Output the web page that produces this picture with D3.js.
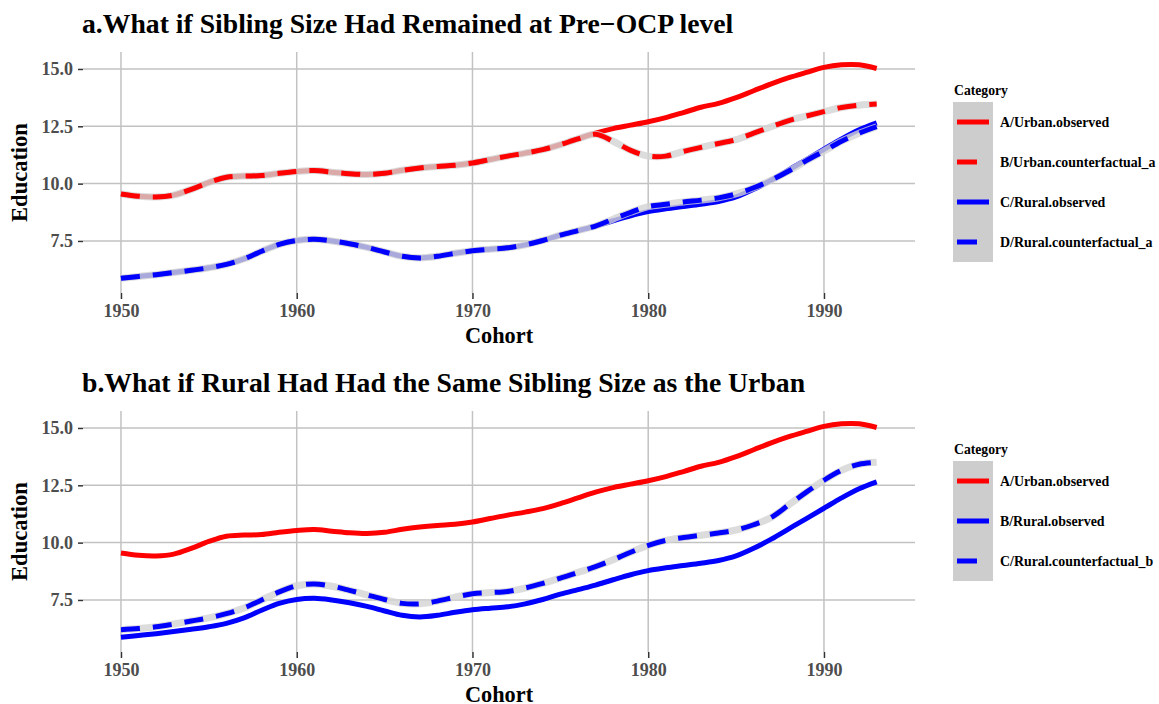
<!DOCTYPE html>
<html lang="en">
  <head>
    <meta charset="UTF-8" />
    <title>Sibling Size Counterfactuals</title>
    <script src="https://cdn.jsdelivr.net/npm/d3@7"></script>
    <style>
      body { margin: 0; background: #ffffff; }
      svg text { font-family: "Liberation Serif", "DejaVu Serif", serif; font-weight: bold; }
    </style>
  </head>
  <body>
    <svg id="chart" width="1159" height="704"></svg>
    <script>
      // cohorts (birth years)
      const years = d3.range(1950, 1994);

      // smoothed education by cohort
      const urbanObserved = [9.55, 9.45, 9.42, 9.5, 9.75, 10.05, 10.28, 10.33, 10.35, 10.45,
        10.53, 10.57, 10.5, 10.43, 10.4, 10.45, 10.58, 10.68, 10.75, 10.8,
        10.9, 11.05, 11.2, 11.33, 11.48, 11.7, 11.95, 12.2, 12.4, 12.55,
        12.7, 12.88, 13.1, 13.33, 13.5, 13.75, 14.05, 14.35, 14.62, 14.85,
        15.07, 15.18, 15.18, 15.02];
      const ruralObserved = [5.87, 5.95, 6.03, 6.12, 6.22, 6.33, 6.48, 6.72, 7.05, 7.35,
        7.52, 7.57, 7.5, 7.38, 7.22, 7.02, 6.83, 6.76, 6.83, 6.96,
        7.07, 7.14, 7.2, 7.33, 7.52, 7.75, 7.95, 8.15, 8.38, 8.6,
        8.78, 8.9, 9.0, 9.1, 9.22, 9.42, 9.75, 10.15, 10.6, 11.05,
        11.5, 11.95, 12.35, 12.65];
      const urbanCfA = [9.55, 9.45, 9.42, 9.5, 9.75, 10.05, 10.28, 10.33, 10.35, 10.45,
        10.53, 10.57, 10.5, 10.43, 10.4, 10.45, 10.58, 10.68, 10.75, 10.8,
        10.9, 11.05, 11.2, 11.33, 11.48, 11.7, 11.95, 12.15, 11.85, 11.45,
        11.2, 11.2, 11.4, 11.58, 11.75, 11.92, 12.2, 12.48, 12.75, 12.95,
        13.14, 13.32, 13.42, 13.47];
      const ruralCfA = [5.87, 5.95, 6.03, 6.12, 6.22, 6.33, 6.48, 6.72, 7.05, 7.35,
        7.52, 7.57, 7.5, 7.38, 7.22, 7.02, 6.83, 6.76, 6.83, 6.96,
        7.07, 7.14, 7.2, 7.33, 7.52, 7.75, 7.95, 8.15, 8.45, 8.75,
        9.0, 9.1, 9.2, 9.28, 9.38, 9.55, 9.82, 10.15, 10.55, 11.0,
        11.42, 11.85, 12.2, 12.48];
      const ruralCfB = [6.2, 6.25, 6.33, 6.45, 6.58, 6.72, 6.9, 7.15, 7.5, 7.85,
        8.12, 8.2, 8.1, 7.92, 7.72, 7.52, 7.35, 7.33, 7.45, 7.62,
        7.77, 7.82, 7.87, 8.02, 8.22, 8.45, 8.7, 8.95, 9.25, 9.58,
        9.88, 10.1, 10.22, 10.32, 10.42, 10.55, 10.78, 11.1, 11.65, 12.2,
        12.72, 13.15, 13.42, 13.5];

      const xTicks = [1950, 1960, 1970, 1980, 1990];
      const yTicks = [7.5, 10, 12.5, 15];

      const panels = [
        {
          title: "a.What if Sibling Size Had Remained at Pre\u2212OCP level",
          top: 52,
          series: [
            { name: "A/Urban.observed", values: urbanObserved, color: "red", dashed: false },
            { name: "B/Urban.counterfactual_a", values: urbanCfA, color: "red", dashed: true },
            { name: "C/Rural.observed", values: ruralObserved, color: "blue", dashed: false },
            { name: "D/Rural.counterfactual_a", values: ruralCfA, color: "blue", dashed: true }
          ]
        },
        {
          title: "b.What if Rural Had Had the Same Sibling Size as the Urban",
          top: 411,
          series: [
            { name: "A/Urban.observed", values: urbanObserved, color: "red", dashed: false },
            { name: "B/Rural.observed", values: ruralObserved, color: "blue", dashed: false },
            { name: "C/Rural.counterfactual_b", values: ruralCfB, color: "blue", dashed: true }
          ]
        }
      ];

      const svg = d3.select("#chart");
      const left = 83, right = 915, panelH = 241;
      const dash = "19,13";

      const x = d3.scaleLinear().domain([1947.84, 1995.18]).range([left, right]);

      panels.forEach(function (p) {
        const bottom = p.top + panelH;
        const y = d3.scaleLinear().domain([5.23, 15.74]).range([bottom, p.top]);
        const g = svg.append("g");

        // title
        g.append("text")
          .attr("x", 82)
          .attr("y", p.top - 19)
          .style("font-size", "27.7px")
          .attr("fill", "#000")
          .text(p.title);

        // grid
        g.selectAll(".vg").data(xTicks).join("line")
          .attr("x1", d => x(d)).attr("x2", d => x(d))
          .attr("y1", p.top).attr("y2", bottom)
          .attr("stroke", "#c2c2c2").attr("stroke-width", 1.5);
        g.selectAll(".hg").data(yTicks).join("line")
          .attr("y1", d => y(d)).attr("y2", d => y(d))
          .attr("x1", left).attr("x2", right)
          .attr("stroke", "#c2c2c2").attr("stroke-width", 1.5);

        // axes
        const xAxis = g.append("g")
          .attr("transform", "translate(0," + bottom + ")")
          .call(d3.axisBottom(x).tickValues(xTicks).tickFormat(d3.format("d")).tickSize(6).tickPadding(5));
        const yAxis = g.append("g")
          .attr("transform", "translate(" + left + ",0)")
          .call(d3.axisLeft(y).tickValues(yTicks).tickFormat(d3.format(".1f")).tickSize(5).tickPadding(5));
        [xAxis, yAxis].forEach(function (a) {
          a.select(".domain").remove();
          a.selectAll(".tick line").attr("stroke", "#333").attr("stroke-width", 1.5);
          a.selectAll(".tick text")
            .attr("fill", "#4d4d4d")
            .style("font-size", "18px")
            .style("font-family", "'Liberation Serif', serif")
            .style("font-weight", "bold");
        });

        g.append("text")
          .attr("x", (left + right) / 2)
          .attr("y", bottom + 50)
          .attr("text-anchor", "middle")
          .style("font-size", "22.3px")
          .text("Cohort");
        g.append("text")
          .attr("transform", "translate(27," + (p.top + panelH / 2) + ") rotate(-90)")
          .attr("text-anchor", "middle")
          .style("font-size", "22.5px")
          .text("Education");

        // lines
        const line = d3.line()
          .x((d, i) => x(years[i]))
          .y(d => y(d))
          .curve(d3.curveCatmullRom);

        p.series.filter(s => !s.dashed).forEach(function (s) {
          g.append("path").attr("d", line(s.values))
            .attr("fill", "none").attr("stroke", s.color).attr("stroke-width", 5);
        });
        p.series.filter(s => s.dashed).forEach(function (s) {
          g.append("path").attr("d", line(s.values))
            .attr("fill", "none").attr("stroke", "#d3d3d3").attr("stroke-opacity", 0.8)
            .attr("stroke-width", 7);
        });
        p.series.filter(s => s.dashed).forEach(function (s) {
          g.append("path").attr("d", line(s.values))
            .attr("fill", "none").attr("stroke", s.color).attr("stroke-width", 5)
            .attr("stroke-dasharray", dash);
        });

        // legend
        const lg = g.append("g").attr("transform", "translate(953," + (p.top + 50) + ")");
        lg.append("text").attr("x", 1).attr("y", -7).style("font-size", "13.7px").text("Category");
        lg.append("rect").attr("x", 0).attr("y", 0)
          .attr("width", 40).attr("height", p.series.length * 40)
          .attr("fill", "#cdcdcd");
        p.series.forEach(function (s, i) {
          const cy = 20 + i * 40;
          lg.append("line")
            .attr("x1", 4).attr("x2", s.dashed ? 24 : 36)
            .attr("y1", cy).attr("y2", cy)
            .attr("stroke", s.color).attr("stroke-width", 5);
          lg.append("text").attr("x", 47).attr("y", cy + 4.5)
            .style("font-size", "13.9px").text(s.name);
        });
      });
    </script>
  </body>
</html>
